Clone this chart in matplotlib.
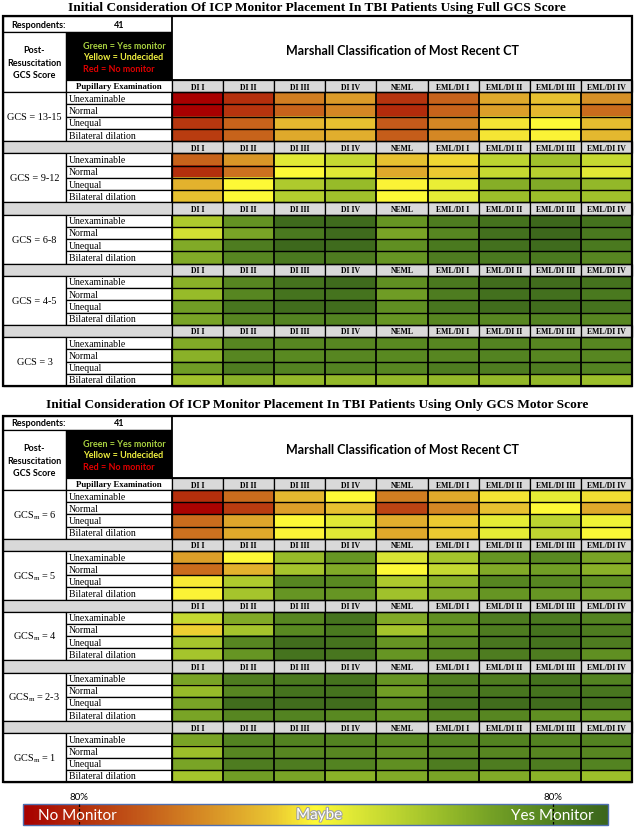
import numpy as np
import matplotlib.pyplot as plt
import matplotlib.patheffects as pe
from matplotlib.colors import LinearSegmentedColormap
from matplotlib.patches import Rectangle

plt.rcParams['mathtext.fontset'] = 'custom'
plt.rcParams['mathtext.rm'] = 'Liberation Serif'

# Marshall CT classes / pupillary exam rows
columns = ["DI I", "DI II", "DI III", "DI IV", "NEML",
           "EML/DI I", "EML/DI II", "EML/DI III", "EML/DI IV"]
pupils = ["Unexaminable", "Normal", "Unequal", "Bilateral dilation"]
respondents = 41

full_labels = ["GCS = 13-15", "GCS = 9-12", "GCS = 6-8", "GCS = 4-5", "GCS = 3"]
motor_labels = [r"GCS$_\mathregular{m}$ = 6", r"GCS$_\mathregular{m}$ = 5",
                r"GCS$_\mathregular{m}$ = 4", r"GCS$_\mathregular{m}$ = 2-3",
                r"GCS$_\mathregular{m}$ = 1"]

# 0 = no monitor (red), 50 = undecided (yellow), 100 = monitor (green)
full_13_15 = [[0, 10, 28, 34, 11, 22, 37, 42, 32],
              [0, 11, 22, 30, 9, 22, 35, 40, 24],
              [12, 22, 40, 42, 20, 30, 47, 50, 41],
              [13, 22, 37, 38, 21, 30, 47, 49, 40]]
full_9_12 = [[22, 33, 56, 62, 42, 45, 64, 70, 62],
             [10, 25, 50, 56, 37, 43, 62, 65, 56],
             [39, 50, 67, 72, 49, 54, 76, 77, 73],
             [42, 50, 66, 70, 50, 55, 71, 71, 70]]
full_6_8 = [[67, 85, 98, 98, 84, 92, 95, 99, 95],
            [59, 79, 93, 98, 79, 89, 96, 99, 93],
            [77, 92, 99, 98, 86, 93, 96, 98, 93],
            [77, 89, 93, 92, 84, 92, 93, 93, 89]]
full_4_5 = [[75, 89, 95, 98, 86, 93, 97, 97, 95],
            [72, 89, 95, 95, 82, 92, 96, 96, 93],
            [81, 94, 97, 97, 86, 94, 97, 97, 95],
            [79, 89, 90, 90, 84, 89, 89, 90, 89]]
full_3 = [[77, 89, 89, 89, 88, 89, 90, 89, 89],
          [75, 89, 88, 89, 88, 89, 90, 89, 89],
          [82, 92, 90, 90, 89, 92, 92, 92, 90],
          [70, 75, 73, 73, 73, 73, 73, 73, 71]]

motor_6 = [[10, 24, 40, 50, 28, 37, 47, 55, 46],
           [1, 13, 35, 42, 15, 30, 42, 50, 37],
           [24, 36, 50, 56, 38, 43, 55, 64, 53],
           [25, 37, 49, 56, 37, 43, 55, 63, 51]]
motor_5 = [[35, 50, 72, 84, 58, 69, 84, 88, 79],
           [24, 39, 69, 77, 50, 62, 77, 81, 75],
           [48, 67, 89, 88, 67, 75, 89, 89, 86],
           [49, 69, 84, 84, 70, 77, 84, 84, 81]]
motor_4 = [[62, 77, 89, 95, 77, 86, 92, 93, 90],
           [44, 69, 88, 93, 69, 84, 92, 95, 92],
           [69, 89, 97, 95, 84, 89, 94, 95, 92],
           [69, 84, 95, 94, 84, 89, 92, 92, 86]]
motor_2_3 = [[79, 92, 93, 95, 84, 92, 92, 95, 90],
             [72, 89, 95, 95, 81, 92, 94, 95, 94],
             [79, 97, 97, 97, 86, 95, 97, 97, 95],
             [79, 89, 90, 88, 84, 89, 89, 86, 84]]
motor_1 = [[79, 90, 90, 90, 88, 90, 90, 90, 90],
           [71, 89, 89, 89, 86, 89, 89, 89, 89],
           [79, 92, 92, 90, 86, 92, 92, 92, 90],
           [69, 81, 79, 75, 77, 79, 77, 75, 71]]

cmap = LinearSegmentedColormap.from_list("icp", [
    (0.00, "#a80000"), (0.10, "#b5300d"), (0.20, "#c45a1a"), (0.28, "#d27f22"),
    (0.35, "#dda02a"), (0.42, "#e8c231"), (0.50, "#fefa37"), (0.57, "#dde735"),
    (0.64, "#bcd430"), (0.72, "#98bc2a"), (0.80, "#76a226"), (0.88, "#5a8a22"),
    (0.95, "#46741f"), (1.00, "#3c661c")])

W, H = 634, 828
fig = plt.figure(figsize=(W / 100, H / 100), dpi=100)
ax = fig.add_axes([0, 0, 1, 1])
ax.set_xlim(0, W)
ax.set_ylim(H, 0)
ax.axis('off')

SERIF = 'Liberation Serif'
SANS = 'Lato'
X0, X1, X2, X3 = 3, 66, 172, 632
colw = (X3 - X2) / len(columns)


def box(x, y, w, h, fc='white', lw=0.9, z=2):
    ax.add_patch(Rectangle((x, y), w, h, facecolor=fc, edgecolor='black',
                           linewidth=lw, zorder=z))


def draw_table(title, title_y, top, resp_bot, head_bot, bottom, labels, groups):
    ax.text(W / 2, title_y, title, ha='center', va='baseline', family=SERIF,
            weight='bold', fontsize=9.6)
    rh = (bottom - head_bot) / (len(groups) * 5)

    # header block
    box(X0, top, X2 - X0, resp_bot - top)
    ax.text(38, (top + resp_bot) / 2, "Respondents:", ha='center', va='center',
            family=SANS, weight='bold', fontsize=6.5, zorder=5)
    ax.text(119, (top + resp_bot) / 2, str(respondents), ha='center', va='center',
            family=SANS, weight='bold', fontsize=6.5, zorder=5)
    box(X0, resp_bot, X1 - X0, head_bot + rh - resp_bot)
    ax.text((X0 + X1) / 2, (resp_bot + head_bot + rh) / 2, "Post-\nResuscitation\nGCS Score",
            ha='center', va='center', family=SANS, weight='bold', fontsize=6.5,
            linespacing=1.45, zorder=5)
    box(X1, resp_bot, X2 - X1, head_bot - resp_bot, fc='black')
    for i, (txt, c) in enumerate([("Green = Yes monitor", "#a8d040"),
                                  ("Yellow = Undecided", "#f0f040"),
                                  ("Red = No monitor", "#e00000")]):
        ax.text(X1 + 17, resp_bot + 13.5 + i * 11.5, txt, ha='left', va='center',
                family=SANS, weight='bold', fontsize=6.5, color=c, zorder=5)
    box(X2, top, X3 - X2, head_bot - top, lw=1.3)
    ax.text((X2 + X3) / 2, (top + head_bot) / 2 + 2, "Marshall Classification of Most Recent CT",
            ha='center', va='center', family=SANS, weight='bold', fontsize=9, zorder=5)

    for g, (lab, vals) in enumerate(zip(labels, groups)):
        hy = head_bot + g * 5 * rh
        if g == 0:
            box(X1, hy, X2 - X1, rh)
            ax.text((X1 + X2) / 2, hy + rh / 2, "Pupillary Examination", ha='center',
                    va='center', family=SERIF, weight='bold', fontsize=6.3, zorder=5)
        else:
            box(X0, hy, X2 - X0, rh, fc='#d9d9d9')
        for j, col in enumerate(columns):
            box(X2 + j * colw, hy, colw, rh, fc='#d9d9d9')
            ax.text(X2 + (j + 0.5) * colw, hy + rh / 2 + 0.5, col, ha='center', va='center',
                    family=SERIF, weight='bold', fontsize=5.6, zorder=5)
        y0 = hy + rh
        y1 = y0 + 4 * rh
        ax.imshow(np.array(vals), cmap=cmap, vmin=0, vmax=100, aspect='auto',
                  interpolation='nearest', extent=(X2, X3, y1, y0), zorder=1)
        box(X0, y0, X1 - X0, 4 * rh)
        ax.text((X0 + X1) / 2, (y0 + y1) / 2, lab, ha='center', va='center',
                family=SERIF, fontsize=7.4, zorder=5)
        for k, p in enumerate(pupils):
            box(X1, y0 + k * rh, X2 - X1, rh)
            ax.text(X1 + 3, y0 + (k + 0.5) * rh, p, ha='left', va='center',
                    family=SERIF, fontsize=7.0, zorder=5)
        ax.hlines([y0 + k * rh for k in range(5)], X2, X3, color='black', lw=1.0, zorder=3)
        ax.vlines([X2 + j * colw for j in range(len(columns) + 1)], y0, y1,
                  color='black', lw=1.3, zorder=3)

    ax.add_patch(Rectangle((X0, top), X3 - X0, bottom - top, facecolor='none',
                           edgecolor='black', linewidth=1.6, zorder=6))


draw_table("Initial Consideration Of ICP Monitor Placement In TBI Patients Using Full GCS Score",
           10.5, 17, 33, 81, 387, full_labels,
           [full_13_15, full_9_12, full_6_8, full_4_5, full_3])
draw_table("Initial Consideration Of ICP Monitor Placement In TBI Patients Using Only GCS Motor Score",
           408.5, 417, 431, 479, 783, motor_labels,
           [motor_6, motor_5, motor_4, motor_2_3, motor_1])

# colour scale bar
cb_l, cb_r, cb_t, cb_b = 23, 608, 805, 826
ax.imshow(np.linspace(0, 100, 400)[None, :], cmap=cmap, vmin=0, vmax=100, aspect='auto',
          extent=(cb_l, cb_r, cb_b, cb_t), zorder=1)
ax.add_patch(Rectangle((cb_l, cb_t), cb_r - cb_l, cb_b - cb_t, facecolor='none',
                       edgecolor='#4f6fb0', linewidth=1.0, zorder=3))
ax.vlines([79, 553], cb_t, cb_b, color='black', linestyles=(0, (2, 1.5)), lw=0.9, zorder=4)
ax.text(79, 798, "80%", ha='center', va='center', family=SANS, fontsize=7)
ax.text(553, 798, "80%", ha='center', va='center', family=SANS, fontsize=7)
ax.text(38, 816, "No Monitor", ha='left', va='center', family=SANS, fontsize=11,
        color='white', zorder=5)
ax.text(319, 816, "Maybe", ha='center', va='center', family=SANS, fontsize=11,
        color='white', zorder=5,
        path_effects=[pe.withStroke(linewidth=1.5, foreground='#a0a0a0')])
ax.text(594, 816, "Yes Monitor", ha='right', va='center', family=SANS, fontsize=11,
        color='white', zorder=5)

fig.savefig("out.png", dpi=100)
